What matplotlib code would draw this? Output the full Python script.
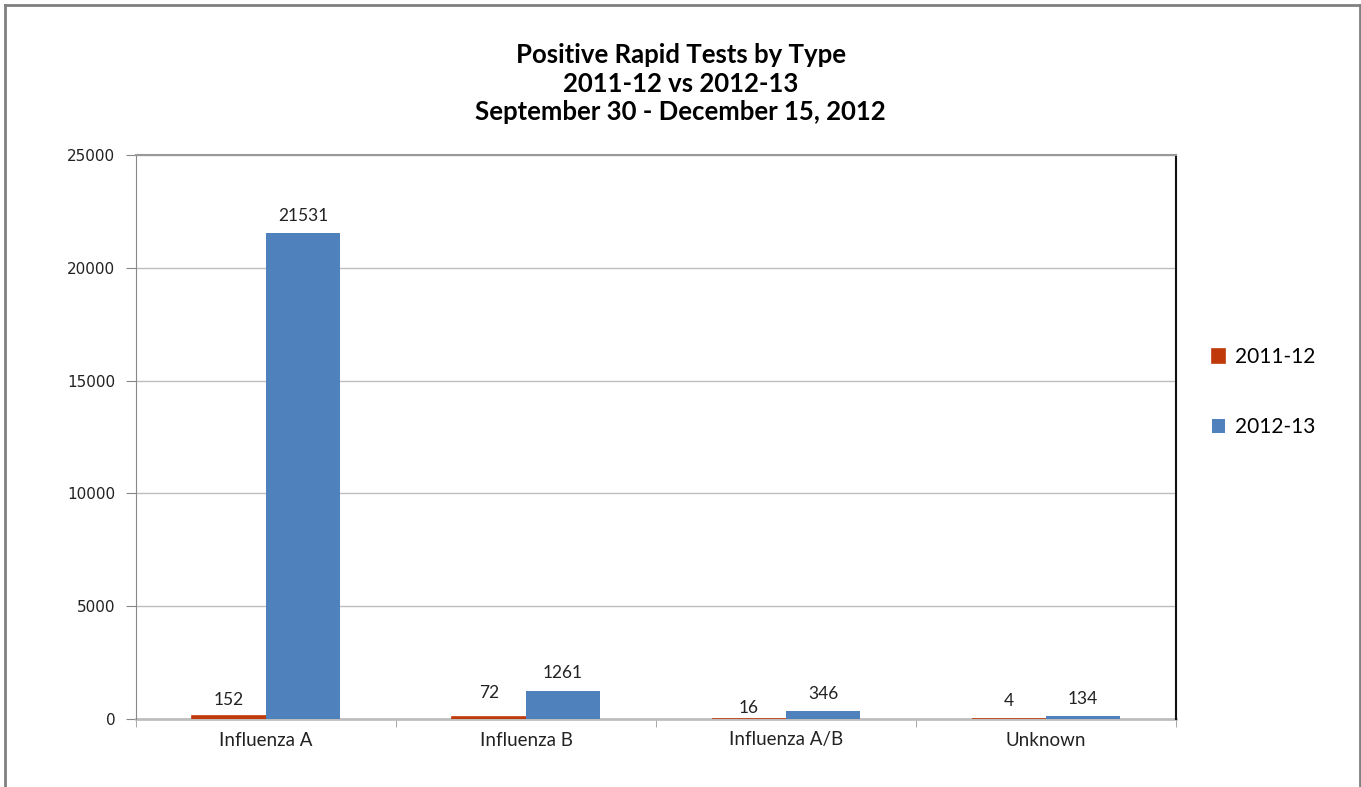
import matplotlib.pyplot as plt
from matplotlib.lines import Line2D
import numpy as np

# data
categories = ['Influenza A', 'Influenza B', 'Influenza A/B', 'Unknown']
season_2011 = [152, 72, 16, 4]
season_2012 = [21531, 1261, 346, 134]
series_names = ['2011-12', '2012-13']
yticks = [0, 5000, 10000, 15000, 20000, 25000]

red = '#C0390B'
blue = '#4F81BD'

fig = plt.figure(figsize=(13.61, 7.87), dpi=100)
ax = fig.add_axes([136/1361, 1 - 719/787, 1040/1361, 564/787])

x = np.arange(len(categories))
w = 0.285
b1 = ax.bar(x - w/2, season_2011, w, color=red, edgecolor=red, linewidth=1.2,
            label=series_names[0], zorder=3)
b2 = ax.bar(x + w/2, season_2012, w, color=blue, label=series_names[1], zorder=3)

# data labels (Excel nudges a couple of them)
off1 = [11.5, 17.5, 8, 13]
for rect, v, o in zip(b1, season_2011, off1):
    ax.annotate(str(v), (rect.get_x() + rect.get_width()/2, v), xytext=(0, o),
                textcoords='offset points', ha='center', va='center',
                fontsize=12.5, family='Lato', color='#222222')
for rect, v in zip(b2, season_2012):
    ax.annotate(str(v), (rect.get_x() + rect.get_width()/2, v), xytext=(0, 12.5),
                textcoords='offset points', ha='center', va='center',
                fontsize=12.5, family='Lato', color='#222222')

ax.set_xlim(-0.5, len(categories) - 0.5)
ax.set_ylim(0, 25000)
ax.set_yticks(yticks)
ax.set_yticklabels([str(t) for t in yticks], fontsize=11, family='DejaVu Sans', color='#222222')
ax.set_xticks(x)
ax.set_xticklabels(categories, fontsize=13.5, family='Lato', color='#222222')
ax.tick_params(axis='x', length=0, pad=9)
ax.tick_params(axis='y', length=7, color='#888888', pad=8)
# small ticks between the groups
ax.set_xticks(np.arange(-0.5, len(categories)), minor=True)
ax.tick_params(axis='x', which='minor', length=6, color='#999999')

ax.yaxis.grid(True, color='#BEBEBE', linewidth=1, zorder=0)
ax.set_axisbelow(True)
ax.spines['left'].set_color('#888888')
ax.spines['bottom'].set_color('#BEBEBE')
ax.spines['bottom'].set_linewidth(2)
ax.spines['bottom'].set_zorder(1)
ax.spines['top'].set_color('#999999')
ax.spines['top'].set_linewidth(1.5)
ax.spines['right'].set_color('#111111')
ax.spines['right'].set_linewidth(1.5)

leg = fig.legend(handles=[b1, b2], labels=series_names, loc='center left',
                 bbox_to_anchor=(1193/1361, 1 - 392/787), frameon=False,
                 handlelength=0.65, handleheight=0.65, handletextpad=0.45,
                 labelspacing=2.4, prop={'family': 'Lato', 'size': 15})

# title lines
titles = ['Positive Rapid Tests by Type', '2011-12 vs 2012-13', 'September 30 - December 15, 2012']
for i, t in enumerate(titles):
    fig.text(0.5, 1 - (55 + 28.5*i)/787, t, ha='center', va='center',
             fontsize=18.5, fontweight='bold', family='Lato', color='black')

# outer frame (left, top, right visible)
fc = '#808080'
fig.add_artist(Line2D([4.5/1361, 4.5/1361], [0, 1 - 4.5/787], color=fc, lw=2, transform=fig.transFigure))
fig.add_artist(Line2D([4.5/1361, 1359.5/1361], [1 - 4.5/787, 1 - 4.5/787], color=fc, lw=2, transform=fig.transFigure))
fig.add_artist(Line2D([1359.5/1361, 1359.5/1361], [0, 1 - 4.5/787], color=fc, lw=2, transform=fig.transFigure))

fig.savefig('out.png', dpi=100)
